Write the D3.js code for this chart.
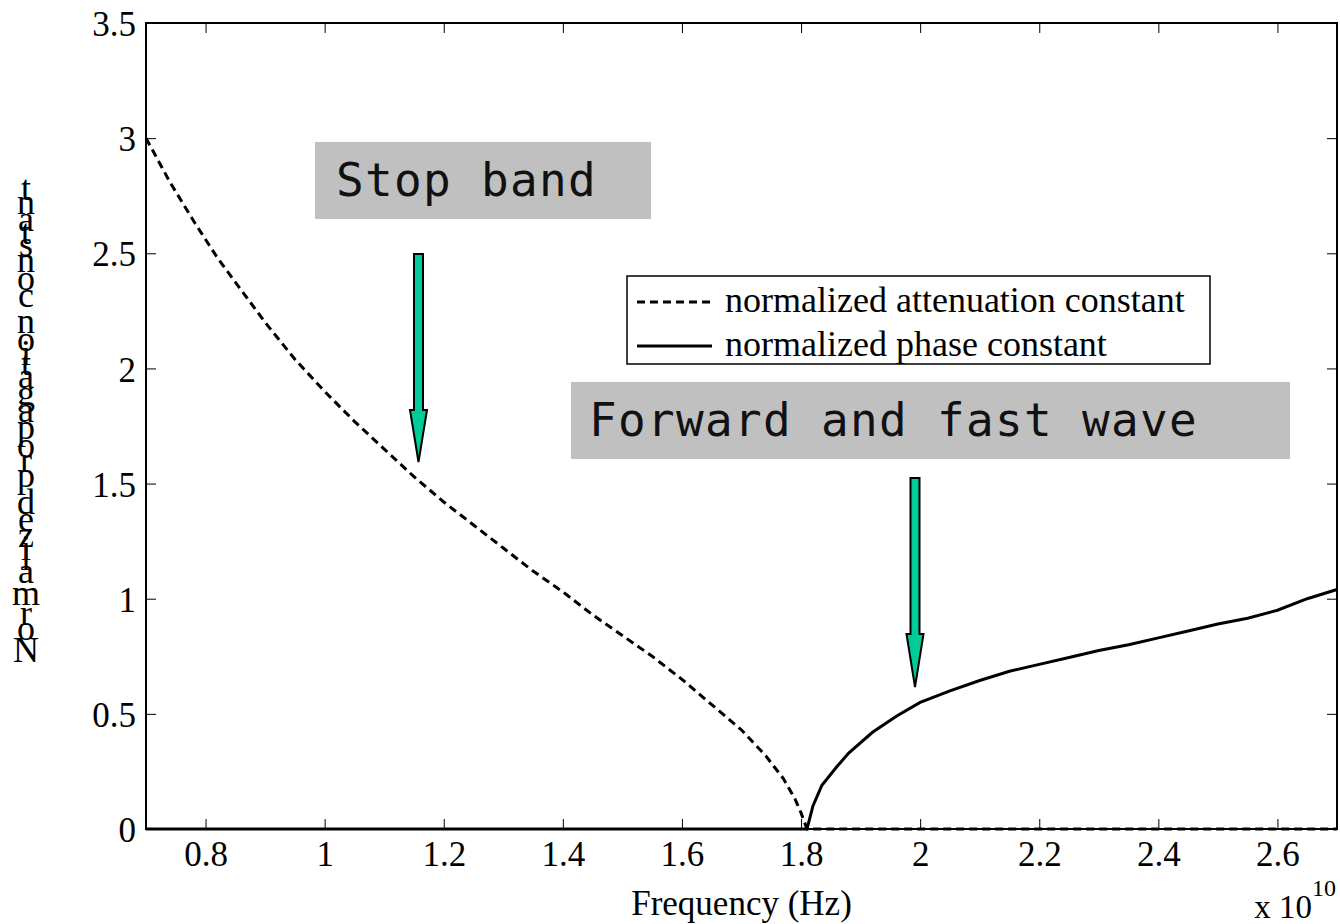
<!DOCTYPE html>
<html>
<head>
<meta charset="utf-8">
<script src="https://cdn.jsdelivr.net/npm/d3@7"></script>
<style>
  body { margin: 0; background: #fff; }
</style>
</head>
<body>
<div id="chart"></div>
<script>
// frequency in units of 1e10 Hz
const attenFreq = [0.70, 0.74, 0.78, 0.82, 0.86, 0.90, 0.95, 1.00, 1.05, 1.10, 1.15, 1.20, 1.25, 1.30,
  1.35, 1.40, 1.45, 1.50, 1.55, 1.60, 1.65, 1.70, 1.74, 1.77, 1.79, 1.80, 1.81, 2.70];
const attenValues = [3.00, 2.81, 2.64, 2.48, 2.34, 2.20, 2.04, 1.90, 1.77, 1.65, 1.53, 1.42, 1.32, 1.22,
  1.12, 1.03, 0.93, 0.84, 0.75, 0.65, 0.54, 0.43, 0.32, 0.22, 0.13, 0.07, 0.00, 0.00];

const phaseFreq = [0.70, 1.81, 1.82, 1.835, 1.86, 1.88, 1.92, 1.96, 2.00, 2.05, 2.10, 2.15, 2.20, 2.25,
  2.30, 2.35, 2.40, 2.45, 2.50, 2.55, 2.60, 2.65, 2.70];
const phaseValues = [0.00, 0.00, 0.10, 0.19, 0.27, 0.33, 0.42, 0.49, 0.55, 0.60, 0.645, 0.685, 0.715, 0.745,
  0.775, 0.80, 0.83, 0.86, 0.89, 0.915, 0.95, 1.00, 1.04];

const xTicks = [0.8, 1.0, 1.2, 1.4, 1.6, 1.8, 2.0, 2.2, 2.4, 2.6];
const yTicks = [0, 0.5, 1, 1.5, 2, 2.5, 3, 3.5];

const legendLabels = ["normalized attenuation constant", "normalized phase constant"];
const xLabel = "Frequency (Hz)";
const yLabel = "Normalized propagation constant";

const width = 1340, height = 924;
const plotL = 146, plotR = 1337, plotT = 23, plotB = 829;
const serif = "'Liberation Serif', 'Times New Roman', serif";

const svg = d3.select("#chart").append("svg")
  .attr("width", width)
  .attr("height", height)
  .style("font-family", serif);

const x = d3.scaleLinear().domain([0.7, 2.7]).range([plotL, plotR]);
const y = d3.scaleLinear().domain([0, 3.5]).range([plotB, plotT]);

const fmt = d => String(+d.toFixed(1));

// axes with inward ticks on all four sides
const gx = svg.append("g").attr("transform", `translate(0,${plotB})`)
  .call(d3.axisBottom(x).tickValues(xTicks).tickFormat(fmt).tickSizeInner(-10).tickSizeOuter(0).tickPadding(12));
svg.append("g").attr("transform", `translate(0,${plotT})`)
  .call(d3.axisTop(x).tickValues(xTicks).tickFormat("").tickSizeInner(-10).tickSizeOuter(0));
const gy = svg.append("g").attr("transform", `translate(${plotL},0)`)
  .call(d3.axisLeft(y).tickValues(yTicks).tickFormat(fmt).tickSizeInner(-10).tickSizeOuter(0).tickPadding(10));
svg.append("g").attr("transform", `translate(${plotR},0)`)
  .call(d3.axisRight(y).tickValues(yTicks).tickFormat("").tickSizeInner(-10).tickSizeOuter(0));

svg.selectAll(".domain").remove();
svg.selectAll(".tick line").attr("stroke", "#000").attr("stroke-width", 1);
svg.selectAll(".tick text").attr("font-size", 35).attr("font-family", serif).attr("fill", "#000");
gy.selectAll(".tick text").attr("dy", "0.36em");

svg.append("rect")
  .attr("x", plotL).attr("y", plotT)
  .attr("width", plotR - plotL).attr("height", plotB - plotT)
  .attr("fill", "none").attr("stroke", "#000").attr("stroke-width", 2);

// curves
const line = d3.line().x(d => x(d[0])).y(d => y(d[1]));
const atten = attenFreq.map((f, i) => [f, attenValues[i]]);
const phase = phaseFreq.map((f, i) => [f, phaseValues[i]]);

svg.append("path").datum(phase)
  .attr("d", line).attr("fill", "none")
  .attr("stroke", "#000").attr("stroke-width", 3);
svg.append("path").datum(atten)
  .attr("d", line).attr("fill", "none")
  .attr("stroke", "#000").attr("stroke-width", 3)
  .attr("stroke-dasharray", "8,5");

// axis labels
svg.append("text")
  .attr("x", (plotL + plotR) / 2).attr("y", 915)
  .attr("text-anchor", "middle").attr("font-size", 35)
  .text(xLabel);

const mult = svg.append("text").attr("x", 1336).attr("y", 918)
  .attr("text-anchor", "end").attr("font-size", 33);
mult.append("tspan").text("x 10");
mult.append("tspan").attr("font-size", 24).attr("dy", -22).text("10");

// y label: upright glyphs stacked bottom to top
const measure = svg.append("text").attr("font-size", 36).text(yLabel);
const node = measure.node();
const offsets = yLabel.split("").map((c, i) => i === 0 ? 0 : node.getSubStringLength(0, i));
const widths = yLabel.split("").map((c, i) => node.getSubStringLength(i, 1));
measure.remove();
svg.append("g").selectAll("text")
  .data(yLabel.split(""))
  .join("text")
  .attr("x", 26)
  .attr("y", (c, i) => 663 - offsets[i] - widths[i] / 2 + 12)
  .attr("text-anchor", "middle")
  .attr("font-size", 36)
  .text(c => c);

// annotation boxes
const boxes = [
  { text: "Stop band", x: 315, y: 142, w: 336, h: 77, tx: 336, ty: 196 },
  { text: "Forward and fast wave", x: 571, y: 382, w: 719, h: 77, tx: 589, ty: 436 }
];
boxes.forEach(b => {
  svg.append("rect").attr("x", b.x).attr("y", b.y).attr("width", b.w).attr("height", b.h)
    .attr("fill", "#c0c0c0");
  svg.append("text").attr("x", b.tx).attr("y", b.ty)
    .style("font-family", "'DejaVu Sans Mono', monospace").attr("font-size", 46)
    .attr("letter-spacing", 1.3)
    .attr("fill", "#111").text(b.text);
});

// arrows
function arrow(cx, y0, yHead, yTip) {
  const sw = 4.5, hw = 8.5;
  const pts = [[cx - sw, y0], [cx + sw, y0], [cx + sw, yHead], [cx + hw, yHead], [cx, yTip],
    [cx - hw, yHead], [cx - sw, yHead]];
  svg.append("path")
    .attr("d", "M" + pts.map(p => p.join(",")).join("L") + "Z")
    .attr("fill", "#00cc99").attr("stroke", "#000").attr("stroke-width", 2)
    .attr("stroke-linejoin", "miter");
}
arrow(418.5, 254, 410, 462);
arrow(915, 478, 634, 687);

// legend
const lg = svg.append("g");
lg.append("rect").attr("x", 627).attr("y", 276).attr("width", 583).attr("height", 88)
  .attr("fill", "#fff").attr("stroke", "#000").attr("stroke-width", 1.5);
legendLabels.forEach((lab, i) => {
  const yy = 302 + i * 44;
  lg.append("line").attr("x1", 637).attr("x2", 712).attr("y1", yy).attr("y2", yy)
    .attr("stroke", "#000").attr("stroke-width", 3)
    .attr("stroke-dasharray", i === 0 ? "8,5" : null);
  lg.append("text").attr("x", 725).attr("y", yy + 10).attr("font-size", 36).text(lab);
});
</script>
</body>
</html>
